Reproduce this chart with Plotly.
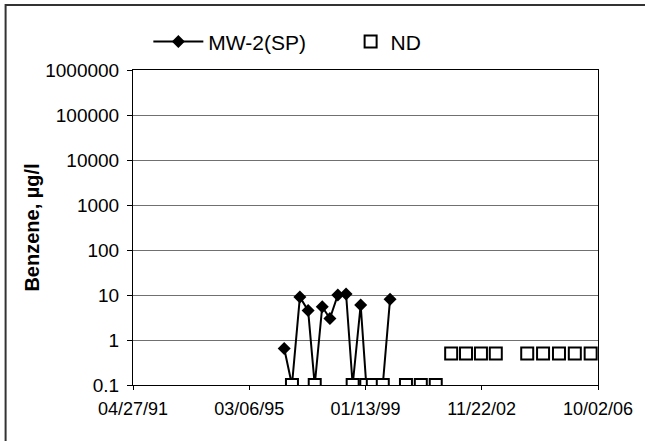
import plotly.graph_objects as go

# MW-2(SP) benzene results (ug/l); non-detects carried at 0.1 on the line
mw2_dates = ["1996-05-03", "1996-08-05", "1996-11-09", "1997-02-17", "1997-05-08",
             "1997-08-07", "1997-11-08", "1998-02-12", "1998-05-23", "1998-08-11",
             "1998-11-16", "1999-01-23", "1999-04-12", "1999-08-11", "1999-11-07"]
mw2_values = [0.65, 0.1, 9, 4.5, 0.1, 5.5, 3, 10, 10.5, 0.1, 6, 0.1, 0.1, 0.1, 8]

# Non-detect samples, plotted at the reporting limit
nd_dates = ["1996-08-05", "1997-05-08", "1998-08-11", "1999-01-23", "1999-04-12",
            "1999-08-11", "2000-05-18", "2000-11-14", "2001-05-14", "2001-11-17",
            "2002-05-16", "2002-11-13", "2003-05-12", "2004-05-27", "2004-12-05",
            "2005-06-16", "2005-12-25", "2006-07-05"]
nd_values = [0.1, 0.1, 0.1, 0.1, 0.1, 0.1, 0.1, 0.1, 0.1, 0.5,
             0.5, 0.5, 0.5, 0.5, 0.5, 0.5, 0.5, 0.5]

x_ticks = ["1991-04-27", "1995-03-06", "1999-01-13", "2002-11-22", "2006-10-02"]
x_tick_text = ["04/27/91", "03/06/95", "01/13/99", "11/22/02", "10/02/06"]
y_ticks = [0.1, 1, 10, 100, 1000, 10000, 100000, 1000000]
y_tick_text = ["0.1", "1", "10", "100", "1000", "10000", "100000", "1000000"]

FONT = "Liberation Sans, Arial, sans-serif"

fig = go.Figure()
fig.add_trace(go.Scatter(
    x=mw2_dates, y=mw2_values, name="MW-2(SP)", mode="lines+markers",
    line=dict(color="black", width=2),
    marker=dict(symbol="diamond", size=10, color="black"),
    legend="legend",
))
fig.add_trace(go.Scatter(
    x=nd_dates, y=nd_values, name="ND", mode="markers",
    marker=dict(symbol="square", size=12, color="white",
                line=dict(color="black", width=2)),
    legend="legend2",
))

fig.update_layout(
    width=645, height=441,
    margin=dict(l=133, r=44, t=70, b=56),
    paper_bgcolor="white", plot_bgcolor="white",
    font=dict(family=FONT, size=18, color="black"),
    showlegend=True,
    legend=dict(orientation="h", x=0.033, xanchor="left", y=1.089, yanchor="middle",
                font=dict(size=21), itemwidth=50, bgcolor="rgba(0,0,0,0)"),
    legend2=dict(orientation="h", x=0.468, xanchor="left", y=1.089, yanchor="middle",
                 font=dict(size=21), itemwidth=30, bgcolor="rgba(0,0,0,0)"),
    xaxis=dict(
        type="date", range=["1991-04-27", "2006-10-02"],
        tickvals=x_ticks, ticktext=x_tick_text,
        showgrid=False, zeroline=False,
        showline=True, linecolor="black", linewidth=1, mirror=True,
        ticks="outside", ticklen=4, tickcolor="black",
        tickfont=dict(size=18), ticklabelstandoff=3,
    ),
    yaxis=dict(
        type="log", range=[-1, 6],
        tickvals=y_ticks, ticktext=y_tick_text,
        showgrid=True, gridcolor="#707070", gridwidth=1,
        zeroline=False,
        showline=True, linecolor="black", linewidth=1, mirror=True,
        ticks="outside", ticklen=5, tickcolor="black",
        tickfont=dict(size=19), ticklabelstandoff=4,
        title=dict(text="<b>Benzene, µg/l</b>", font=dict(size=20), standoff=0),
    ),
    shapes=[dict(type="rect", xref="paper", yref="paper",
                 x0=-0.274, x1=1.3, y0=-0.4, y1=1.206,
                 line=dict(color="#333333", width=2), fillcolor="rgba(0,0,0,0)",
                 layer="below")],
)

fig.write_html("out.html")
